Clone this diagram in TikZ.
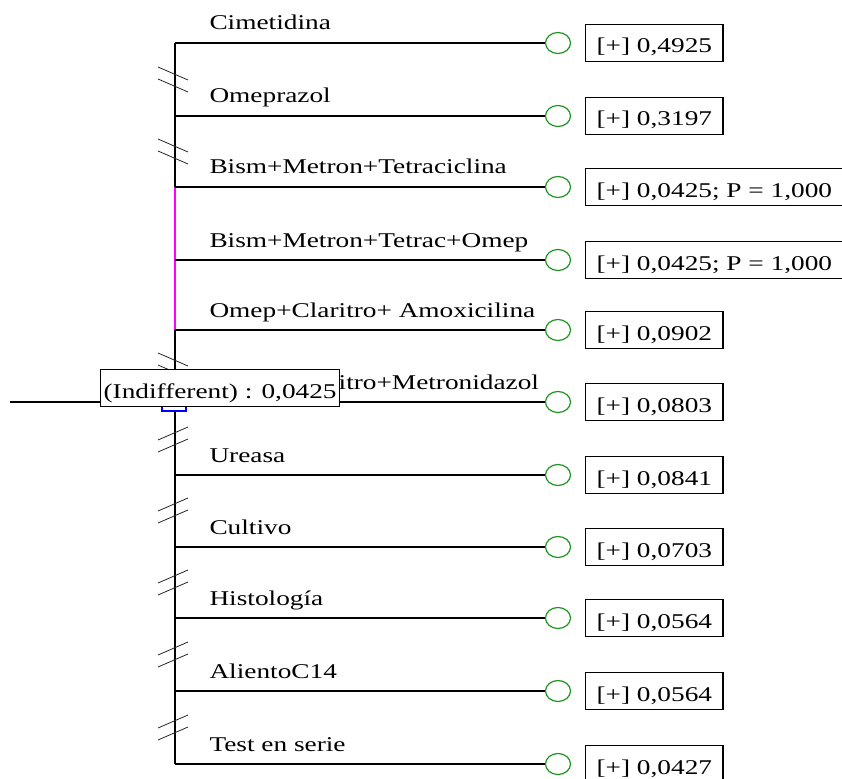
\documentclass[tikz,border=0pt]{standalone}
\usepackage{fontspec}
\setmainfont{Liberation Serif}[FakeStretch=1.3]
\usetikzlibrary{shapes.geometric}
\definecolor{chancegreen}{RGB}{30,150,30}
\definecolor{pathmagenta}{RGB}{255,0,255}
\begin{document}
\begin{tikzpicture}[x=1pt, y=-1pt, font=\fontsize{21}{24}\selectfont]
%% coordinates are given in pixels of the decision tree, y grows downwards
%% the branch labels sit 13px above their branch, the result boxes are centred on it
\tikzstyle{branch}=[line width=1.6pt]
\tikzstyle{cut}=[line width=0.8pt, black!85]
\tikzstyle{chance}=[ellipse, draw=chancegreen, line width=1.2pt, fill=white, minimum width=25, minimum height=21, inner sep=0pt]
\tikzstyle{result}=[draw, line width=1.2pt, fill=white, anchor=west, inner xsep=11pt, inner ysep=3pt, text height=25.5pt, text depth=5.5pt]
\tikzstyle{decision}=[rectangle, draw=blue, line width=1.2pt, fill=white, minimum width=24, minimum height=16, inner sep=0pt]
\useasboundingbox (0,0) rectangle (842,778);
%% TikZ-figure elements %%
\coordinate (b1) at (175,43);
\coordinate (b2) at (175,116);
\coordinate (b3) at (175,187);
\coordinate (b4) at (175,260);
\coordinate (b5) at (175,330);
\coordinate (b6) at (175,402);
\coordinate (b7) at (175,475);
\coordinate (b8) at (175,547);
\coordinate (b9) at (175,618);
\coordinate (b10) at (175,691);
\coordinate (b11) at (175,764);
\coordinate (root) at (10,402);
%% chance nodes at the end of each branch
\node[chance] (c1) at (558,43) {};
\node[chance] (c2) at (558,116) {};
\node[chance] (c3) at (558,187) {};
\node[chance] (c4) at (558,260) {};
\node[chance] (c5) at (558,330) {};
\node[chance] (c6) at (558,402) {};
\node[chance] (c7) at (558,475) {};
\node[chance] (c8) at (558,547) {};
\node[chance] (c9) at (558,618) {};
\node[chance] (c10) at (558,691) {};
\node[chance] (c11) at (558,764) {};
%% spine of the tree, the optimal part in magenta
\draw[branch] (b1) -- (b3);
\draw[branch, pathmagenta] (b3) -- (b5);
\draw[branch] (b5) -- (b11);
\draw[branch] (root) -- (b6);
%% branches
\draw[branch] (b1) -- (c1);
\draw[branch] (b2) -- (c2);
\draw[branch] (b3) -- (c3);
\draw[branch] (b4) -- (c4);
\draw[branch] (b5) -- (c5);
\draw[branch] (b6) -- (c6);
\draw[branch] (b7) -- (c7);
\draw[branch] (b8) -- (c8);
\draw[branch] (b9) -- (c9);
\draw[branch] (b10) -- (c10);
\draw[branch] (b11) -- (c11);
%% labels of the branches
\node[anchor=base west] (l1) at (206,30) {Cimetidina};
\node[anchor=base west] (l2) at (206,103) {Omeprazol};
\node[anchor=base west] (l3) at (206,174) {Bism+Metron+Tetraciclina};
\node[anchor=base west] (l4) at (206,247) {Bism+Metron+Tetrac+Omep};
\node[anchor=base west] (l5) at (206,317) {Omep+Claritro+ Amoxicilina};
\node[anchor=base west] (l6) at (206,389) {Omep+Claritro+Metronidazol};
\node[anchor=base west] (l7) at (206,462) {Ureasa};
\node[anchor=base west] (l8) at (206,534) {Cultivo};
\node[anchor=base west] (l9) at (206,605) {Histología};
\node[anchor=base west] (l10) at (206,678) {AlientoC14};
\node[anchor=base west] (l11) at (206,751) {Test en serie};
%% results of the branches
\node[result] (r1) at (585,43) {[+] 0,4925};
\node[result] (r2) at (585,116) {[+] 0,3197};
\node[result] (r3) at (585,187) {[+] 0,0425; P = 1,000};
\node[result] (r4) at (585,260) {[+] 0,0425; P = 1,000};
\node[result] (r5) at (585,330) {[+] 0,0902};
\node[result] (r6) at (585,402) {[+] 0,0803};
\node[result] (r7) at (585,475) {[+] 0,0841};
\node[result] (r8) at (585,547) {[+] 0,0703};
\node[result] (r9) at (585,618) {[+] 0,0564};
\node[result] (r10) at (585,691) {[+] 0,0564};
\node[result] (r11) at (585,764) {[+] 0,0427};
%% pruned branches, above the decision node
\draw[cut] (158,67) -- ++(30,13);
\draw[cut] (158,79) -- ++(30,13);
\draw[cut] (158,139) -- ++(30,13);
\draw[cut] (158,151) -- ++(30,13);
\draw[cut] (158,353) -- ++(30,13);
\draw[cut] (158,365) -- ++(30,13);
%% pruned branches, below the decision node
\draw[cut] (158,440) -- ++(30,-13);
\draw[cut] (158,452) -- ++(30,-13);
\draw[cut] (158,511) -- ++(30,-13);
\draw[cut] (158,523) -- ++(30,-13);
\draw[cut] (158,583) -- ++(30,-13);
\draw[cut] (158,595) -- ++(30,-13);
\draw[cut] (158,655) -- ++(30,-13);
\draw[cut] (158,667) -- ++(30,-13);
\draw[cut] (158,728) -- ++(30,-13);
\draw[cut] (158,740) -- ++(30,-13);
%% decision node and its value
\node[decision] (dec) at (174,403) {};
\node[result, anchor=north west, inner xsep=3pt] (value) at (100,369) {(Indifferent) : 0,0425};
\end{tikzpicture}
\end{document}
